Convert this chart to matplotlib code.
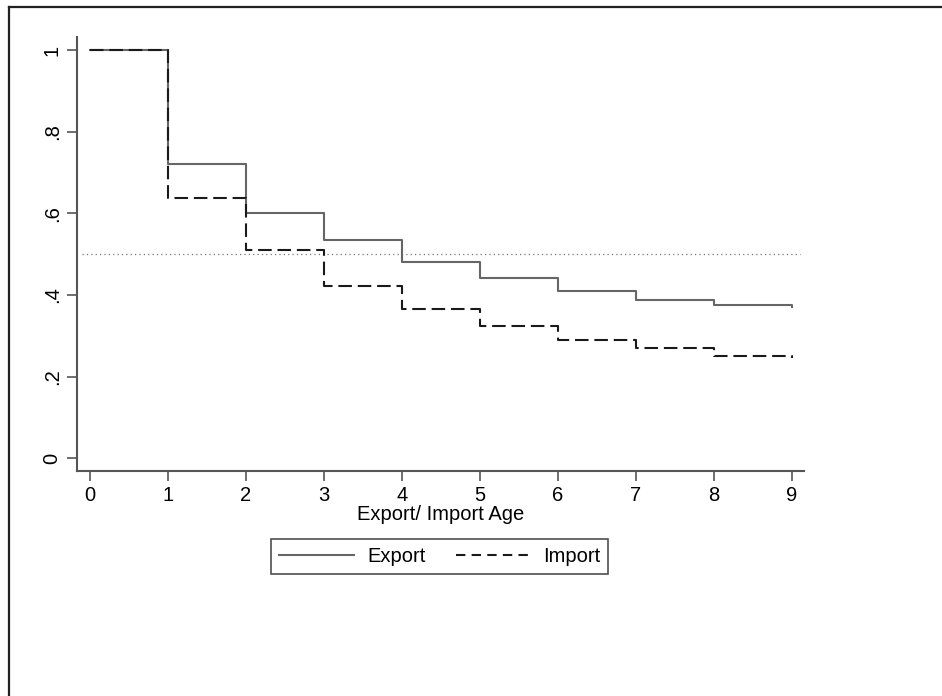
"""Kaplan-Meier style survival curves for export / import spells."""

import matplotlib
matplotlib.use("Agg")
import matplotlib.pyplot as plt
from matplotlib.lines import Line2D

plt.rcParams["font.family"] = ["Liberation Sans", "DejaVu Sans"]

# step values at each age (steps-post)
ages = [0, 1, 2, 3, 4, 5, 6, 7, 8, 9]
export_surv = [1.0, 0.722, 0.602, 0.534, 0.480, 0.442, 0.409, 0.389, 0.376, 0.370]
import_surv = [1.0, 0.638, 0.511, 0.421, 0.367, 0.325, 0.291, 0.270, 0.250, 0.245]
y_ticks = [0, 0.2, 0.4, 0.6, 0.8, 1.0]
y_tick_labels = ["0", ".2", ".4", ".6", ".8", "1"]
ref_level = 0.5

fig = plt.figure(figsize=(9.42, 6.96), dpi=100)
ax = fig.add_axes([0.0817, 0.3233, 0.7718, 0.6235])

ax.axhline(ref_level, xmin=0.007, xmax=0.995, color="#777777", linestyle=(0, (1, 2.5)),
           linewidth=0.9)
ax.plot(ages, export_surv, drawstyle="steps-post", color="#666666", linewidth=1.5,
        label="Export")
ax.plot(ages, import_surv, drawstyle="steps-post", color="#1a1a1a", linewidth=1.5,
        linestyle=(0, (6.5, 2.8)), label="Import")

ax.set_xlim(-0.167, 9.154)
ax.set_ylim(-0.031, 1.032)
ax.set_xticks(ages)
ax.set_yticks(y_ticks)
ax.set_yticklabels(y_tick_labels, rotation=90, va="center")
ax.tick_params(axis="both", direction="out", length=7, width=1.2, color="#555555",
               labelsize=14.5, pad=4)
for side in ("top", "right"):
    ax.spines[side].set_visible(False)
for side in ("left", "bottom"):
    ax.spines[side].set_color("#555555")
    ax.spines[side].set_linewidth(1.5)

ax.set_xlabel("Export/ Import Age", fontsize=14.5, labelpad=0)

leg = fig.legend(loc="center", bbox_to_anchor=(0.467, 0.201), ncol=2, fontsize=14.5,
                 frameon=True, fancybox=False, edgecolor="#222222", handlelength=3.7,
                 columnspacing=1.5, handletextpad=0.65, borderpad=0.4)
leg.get_frame().set_linewidth(1.2)
# shorter dashes in the legend sample, as in the original
leg.get_lines()[1].set_linestyle((0, (4.5, 3.0)))

# screenshot border on top and left
fig.add_artist(Line2D([9 / 942, 1.0], [1 - 7 / 696, 1 - 7 / 696], color="#222222",
                      linewidth=1.6, transform=fig.transFigure))
fig.add_artist(Line2D([9 / 942, 9 / 942], [0.0, 1 - 7 / 696], color="#222222",
                      linewidth=1.6, transform=fig.transFigure))

fig.savefig("out.png", dpi=100)
plt.close(fig)
